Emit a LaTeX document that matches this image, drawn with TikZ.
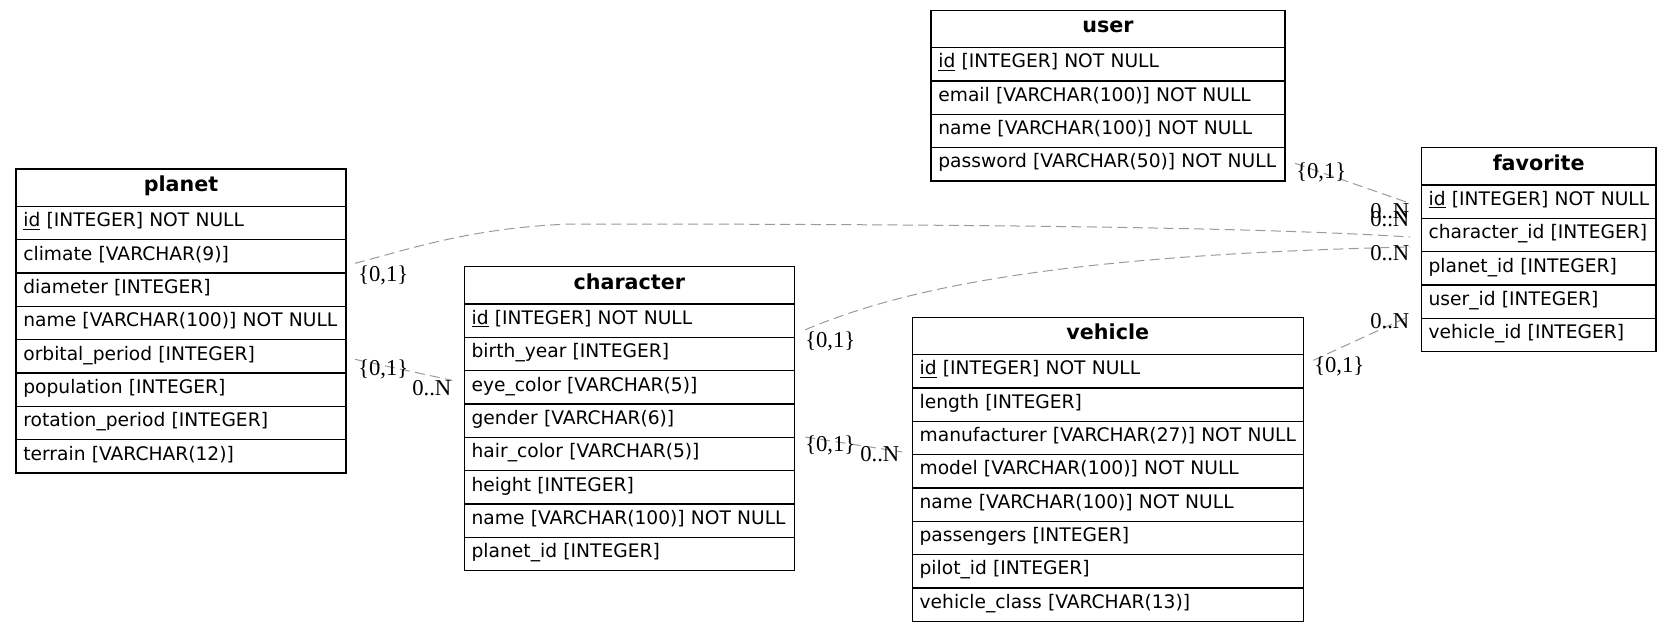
\documentclass[tikz,border=0pt]{standalone}
\usepackage{fontspec}
\usepackage{xcolor}
\usepackage{tikz}
\usetikzlibrary{positioning,calc}
\newfontfamily\erfont{DejaVu Sans}
\newfontfamily\cardfont{Liberation Serif}
\definecolor{ink}{HTML}{000000}
\definecolor{fkline}{HTML}{9A9A9A}
\newcommand{\pk}{\underline{id}}
\newcommand{\attr}[1]{\mbox{#1}}

\begin{document}
\begin{tikzpicture}[
  x=0.75pt, y=-0.75pt,
  node distance=0pt,
  tbl/.style={draw=ink, line width=0.9pt, outer sep=0pt, inner sep=0pt, minimum height=28pt, minimum width=#1, font=\erfont\bfseries\fontsize{15.5pt}{18pt}\selectfont, text height=11pt, text depth=5.5pt},
  fld/.style={draw=ink, line width=0.9pt, outer sep=0pt, inner xsep=5.5pt, inner ysep=0pt, minimum height=25pt, text width=#1, align=left, font=\erfont\fontsize{14pt}{16pt}\selectfont, text height=10pt, text depth=4.5pt},
  fk/.style={draw=fkline, line width=0.75pt, dash pattern=on 7.5pt off 4pt},
  card/.style={font=\cardfont\fontsize{17pt}{19pt}\selectfont, inner sep=0pt, anchor=base west}
]
\path[use as bounding box, fill=white] (0,0) rectangle (1672,632);

% planet
\node[tbl=247.5pt, anchor=north west] (planet) at (16,169) {planet};
\node[fld=236.5pt, below=of planet] (planet-id) {\attr{\pk{} [INTEGER] NOT NULL}};
\node[fld=236.5pt, below=of planet-id] (planet-climate) {\attr{climate [VARCHAR(9)]}};
\node[fld=236.5pt, below=of planet-climate] (planet-diameter) {\attr{diameter [INTEGER]}};
\node[fld=236.5pt, below=of planet-diameter] (planet-name) {\attr{name [VARCHAR(100)] NOT NULL}};
\node[fld=236.5pt, below=of planet-name] (planet-orbital) {\attr{orbital\_period [INTEGER]}};
\node[fld=236.5pt, below=of planet-orbital] (planet-population) {\attr{population [INTEGER]}};
\node[fld=236.5pt, below=of planet-population] (planet-rotation) {\attr{rotation\_period [INTEGER]}};
\node[fld=236.5pt, below=of planet-rotation] (planet-terrain) {\attr{terrain [VARCHAR(12)]}};

% character
\node[tbl=247.5pt, anchor=north west] (character) at (464.3,266.7) {character};
\node[fld=236.5pt, below=of character] (char-id) {\attr{\pk{} [INTEGER] NOT NULL}};
\node[fld=236.5pt, below=of char-id] (char-birth) {\attr{birth\_year [INTEGER]}};
\node[fld=236.5pt, below=of char-birth] (char-eye) {\attr{eye\_color [VARCHAR(5)]}};
\node[fld=236.5pt, below=of char-eye] (char-gender) {\attr{gender [VARCHAR(6)]}};
\node[fld=236.5pt, below=of char-gender] (char-hair) {\attr{hair\_color [VARCHAR(5)]}};
\node[fld=236.5pt, below=of char-hair] (char-height) {\attr{height [INTEGER]}};
\node[fld=236.5pt, below=of char-height] (char-name) {\attr{name [VARCHAR(100)] NOT NULL}};
\node[fld=236.5pt, below=of char-name] (char-planet) {\attr{planet\_id [INTEGER]}};

% user
\node[tbl=265.5pt, anchor=north west] (user) at (931,10.3) {user};
\node[fld=254.5pt, below=of user] (user-id) {\attr{\pk{} [INTEGER] NOT NULL}};
\node[fld=254.5pt, below=of user-id] (user-email) {\attr{email [VARCHAR(100)] NOT NULL}};
\node[fld=254.5pt, below=of user-email] (user-name) {\attr{name [VARCHAR(100)] NOT NULL}};
\node[fld=254.5pt, below=of user-name] (user-password) {\attr{password [VARCHAR(50)] NOT NULL}};

% favorite
\node[tbl=176pt, anchor=north west] (favorite) at (1421.3,147.7) {favorite};
\node[fld=165pt, below=of favorite] (fav-id) {\attr{\pk{} [INTEGER] NOT NULL}};
\node[fld=165pt, below=of fav-id] (fav-charid) {\attr{character\_id [INTEGER]}};
\node[fld=165pt, below=of fav-charid] (fav-planetid) {\attr{planet\_id [INTEGER]}};
\node[fld=165pt, below=of fav-planetid] (fav-userid) {\attr{user\_id [INTEGER]}};
\node[fld=165pt, below=of fav-userid] (fav-vehid) {\attr{vehicle\_id [INTEGER]}};

% vehicle
\node[tbl=293.25pt, anchor=north west] (vehicle) at (912.3,317.3) {vehicle};
\node[fld=282.25pt, below=of vehicle] (veh-id) {\attr{\pk{} [INTEGER] NOT NULL}};
\node[fld=282.25pt, below=of veh-id] (veh-length) {\attr{length [INTEGER]}};
\node[fld=282.25pt, below=of veh-length] (veh-manuf) {\attr{manufacturer [VARCHAR(27)] NOT NULL}};
\node[fld=282.25pt, below=of veh-manuf] (veh-model) {\attr{model [VARCHAR(100)] NOT NULL}};
\node[fld=282.25pt, below=of veh-model] (veh-name) {\attr{name [VARCHAR(100)] NOT NULL}};
\node[fld=282.25pt, below=of veh-name] (veh-passengers) {\attr{passengers [INTEGER]}};
\node[fld=282.25pt, below=of veh-passengers] (veh-pilot) {\attr{pilot\_id [INTEGER]}};
\node[fld=282.25pt, below=of veh-pilot] (veh-class) {\attr{vehicle\_class [VARCHAR(13)]}};

% relations
\draw[fk] ($(planet-climate.east)+(9,7)$) .. controls (410,249) and (470,228) .. (570,224) .. controls (1100,224) and (1300,230) .. ($(fav-charid.west)+(-11,2)$);
\draw[fk] ($(char-id.east)+(11,9)$) .. controls (900,290) and (1050,255) .. ($(fav-charid.west)+(-11,12)$);
\draw[fk] ($(user-password.east)+(10,-1)$) -- ($(fav-id.west)+(-13,1)$);
\draw[fk] ($(veh-id.east)+(10,-11)$) -- ($(fav-userid.west)+(-13,15)$);
\draw[fk] ($(planet-orbital.east)+(9,3)$) -- ($(char-eye.west)+(-12,-7)$);
\draw[fk] ($(char-hair.east)+(11,-17)$) -- ($(veh-manuf.west)+(-10,14)$);

% cardinalities
\node[card] (planet-fav-tail) at (358,281) {\{0,1\}};
\node[card] (planet-char-tail) at (358,375) {\{0,1\}};
\node[card] (planet-char-head) at (412,395) {0..N};
\node[card] (char-fav-tail) at (805,347) {\{0,1\}};
\node[card] (char-veh-tail) at (805,451) {\{0,1\}};
\node[card] (char-veh-head) at (860,461) {0..N};
\node[card] (user-fav-tail) at (1296,178) {\{0,1\}};
\node[card] (user-fav-head) at (1370,218) {0..N};
\node[card] (planet-fav-head) at (1370,226) {0..N};
\node[card] (char-fav-head) at (1370,260) {0..N};
\node[card] (veh-fav-head) at (1370,328) {0..N};
\node[card] (veh-fav-tail) at (1314,372) {\{0,1\}};
\end{tikzpicture}
\end{document}
